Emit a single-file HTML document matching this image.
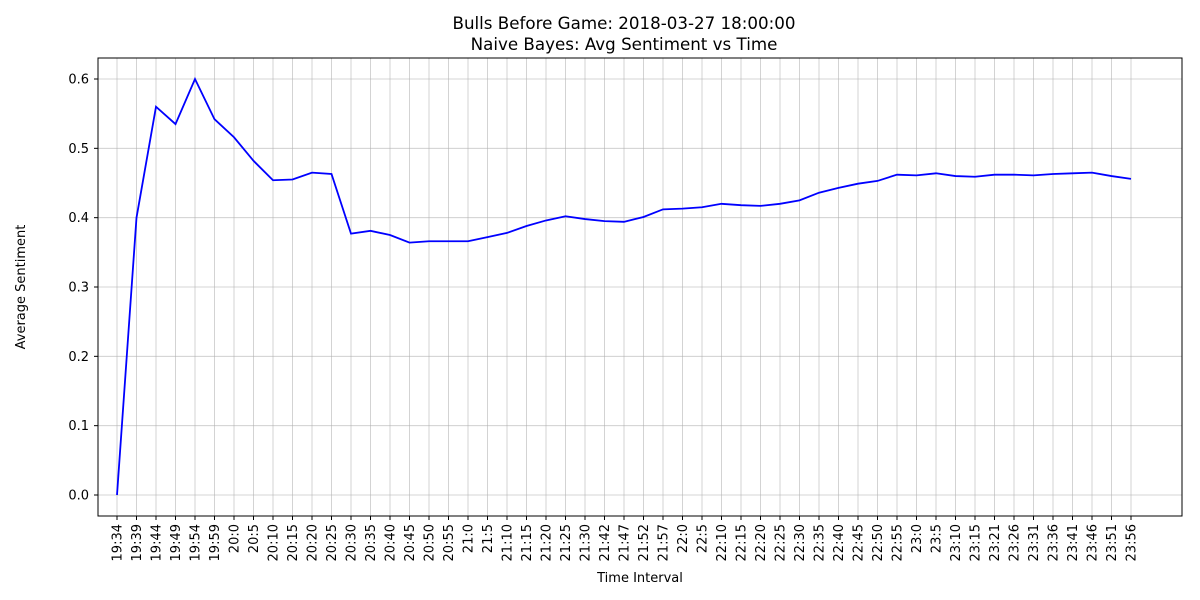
<!DOCTYPE html>
<html><head><meta charset="utf-8"><style>
html,body{margin:0;padding:0;background:#fff;}
svg{display:block;font-family:"DejaVu Sans","Liberation Sans",sans-serif;}
</style></head><body>
<svg id="chart" width="1200" height="600" viewBox="0 0 1200 600">
<text x="624" y="29" text-anchor="middle" font-size="16.7">Bulls Before Game: 2018-03-27 18:00:00</text>
<text x="624" y="50" text-anchor="middle" font-size="16.7">Naive Bayes: Avg Sentiment vs Time</text>
<g id="grid"></g><g id="xt"></g><g id="yt"></g>
<path id="line" fill="none" stroke="#0000ff" stroke-width="1.8"/>
<rect x="98" y="58" width="1084" height="458" fill="none" stroke="#000" stroke-width="1"/>
<text x="640" y="582" text-anchor="middle" font-size="13">Time Interval</text>
<text transform="translate(25,287) rotate(-90)" text-anchor="middle" font-size="13">Average Sentiment</text>
</svg>
<script>
const categories=["19:34","19:39","19:44","19:49","19:54","19:59","20:0","20:5","20:10","20:15","20:20","20:25","20:30","20:35","20:40","20:45","20:50","20:55","21:0","21:5","21:10","21:15","21:20","21:25","21:30","21:42","21:47","21:52","21:57","22:0","22:5","22:10","22:15","22:20","22:25","22:30","22:35","22:40","22:45","22:50","22:55","23:0","23:5","23:10","23:15","23:21","23:26","23:31","23:36","23:41","23:46","23:51","23:56"];
const sentiment=[0,0.40,0.56,0.535,0.60,0.542,0.516,0.482,0.454,0.455,0.465,0.463,0.377,0.381,0.375,0.364,0.366,0.366,0.366,0.372,0.378,0.388,0.396,0.402,0.398,0.395,0.394,0.401,0.412,0.413,0.415,0.420,0.418,0.417,0.420,0.425,0.436,0.443,0.449,0.453,0.462,0.461,0.464,0.460,0.459,0.462,0.462,0.461,0.463,0.464,0.465,0.460,0.456];
const yTicks=[0,0.1,0.2,0.3,0.4,0.5,0.6];
const NS="http://www.w3.org/2000/svg";
const x0=117,x1=1131,y0=495,y1=79;
function xs(i){return x0+(x1-x0)*i/(categories.length-1);}
function ys(v){return y0+(y1-y0)*v/0.6;}
const grid=document.getElementById('grid'),xt=document.getElementById('xt'),yt=document.getElementById('yt');
function mk(t,a,p){const e=document.createElementNS(NS,t);for(const k in a)e.setAttribute(k,a[k]);p.appendChild(e);return e;}
categories.forEach((c,i)=>{
 const x=xs(i);
 const g=mk('line',{x1:x,x2:x,y1:58,y2:516,stroke:'#b0b0b0','stroke-width':0.8,'stroke-opacity':0.7},grid);
 
 
 const t=mk('line',{x1:x,x2:x,y1:516,y2:520,stroke:'#000'},xt);
 
 
 const l=mk('text',{transform:`translate(${x+4.5},524) rotate(-90)`,'text-anchor':'end','font-size':13},xt);
 l.textContent=c;
 
 
});
yTicks.forEach(v=>{
 const y=ys(v);
 const g=mk('line',{x1:98,x2:1182,y1:y,y2:y,stroke:'#b0b0b0','stroke-width':0.8,'stroke-opacity':0.7},grid);
 
 
 const t=mk('line',{x1:94,x2:98,y1:y,y2:y,stroke:'#000'},yt);
 
 
 const l=mk('text',{x:89,y:y+4.5,'text-anchor':'end','font-size':13},yt);
 l.textContent=v.toFixed(1);
 
 
});
document.getElementById('line').setAttribute('d',sentiment.map((v,i)=>(i?'L':'M')+xs(i)+','+ys(v)).join(''));
</script>
</body></html>
